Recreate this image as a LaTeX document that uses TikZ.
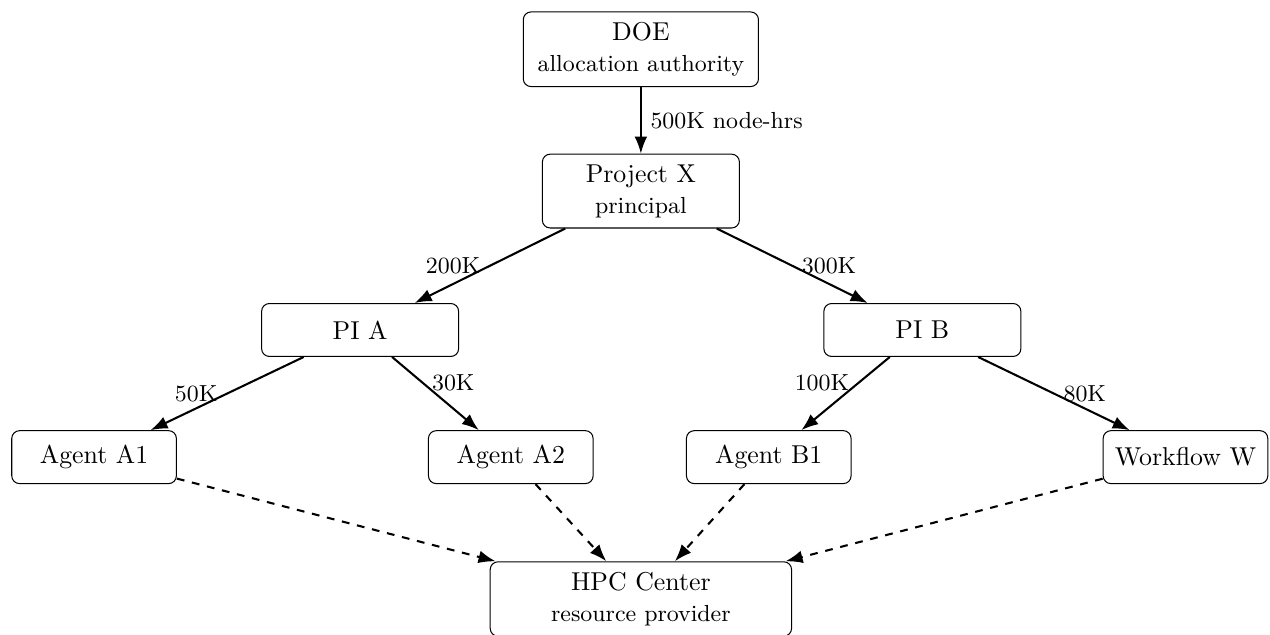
\documentclass[tikz,border=0pt]{standalone}
\usepackage{amsmath, amssymb}
\usepackage{xcolor}
\usepackage{tikz}
\usetikzlibrary{arrows.meta, positioning, calc, shapes}

\tikzset{
    box/.style={draw, rounded corners=3pt, align=center, inner sep=4pt, minimum height=0.72cm},
    mid/.style={box, minimum width=2.68cm},
    leaf/.style={box, minimum width=2.24cm},
    flow/.style={-{Latex}, thick},
    use/.style={-{Latex}, thick, dashed},
    amt/.style={font=\small}
}

\begin{document}
\begin{tikzpicture}
    \useasboundingbox (0,0) rectangle (17.28,-8.63);

    % Radice e progetto
    \node[box, minimum width=3.2cm] (doe) at (8.72,-0.67) {DOE\\{\small allocation authority}};
    \node[mid] (projx) at (8.72,-2.60) {Project X\\{\small principal}};

    % PI
    \node[mid] (pia) at (4.90,-4.49) {PI A};
    \node[mid] (pib) at (12.55,-4.49) {PI B};

    % Agenti
    \node[leaf] (a1) at (1.28,-6.22) {Agent A1};
    \node[leaf] (a2) at (6.95,-6.22) {Agent A2};
    \node[leaf] (b1) at (10.46,-6.22) {Agent B1};
    \node[leaf] (ww) at (16.13,-6.22) {Workflow W};

    % Centro di calcolo
    \node[box, minimum width=4.1cm] (hpc) at (8.72,-8.15) {HPC Center\\{\small resource provider}};

    % Assegnazioni
    \draw[flow] (doe) -- node[right, amt] {500K node-hrs} (projx);
    \draw[flow] (projx) -- node[left, amt] {200K} (pia);
    \draw[flow] (projx) -- node[right, amt] {300K} (pib);
    \draw[flow] (pia) -- node[left, amt] {50K} (a1);
    \draw[flow] (pia) -- node[right, amt, pos=0.35] {30K} (a2);
    \draw[flow] (pib) -- node[left, amt, pos=0.35] {100K} (b1);
    \draw[flow] (pib) -- node[right, amt] {80K} (ww);

    % Uso delle risorse (tratteggiato)
    \draw[use] (a1) -- (hpc);
    \draw[use] (a2) -- (hpc);
    \draw[use] (b1) -- (hpc);
    \draw[use] (ww) -- (hpc);

\end{tikzpicture}
\end{document}
